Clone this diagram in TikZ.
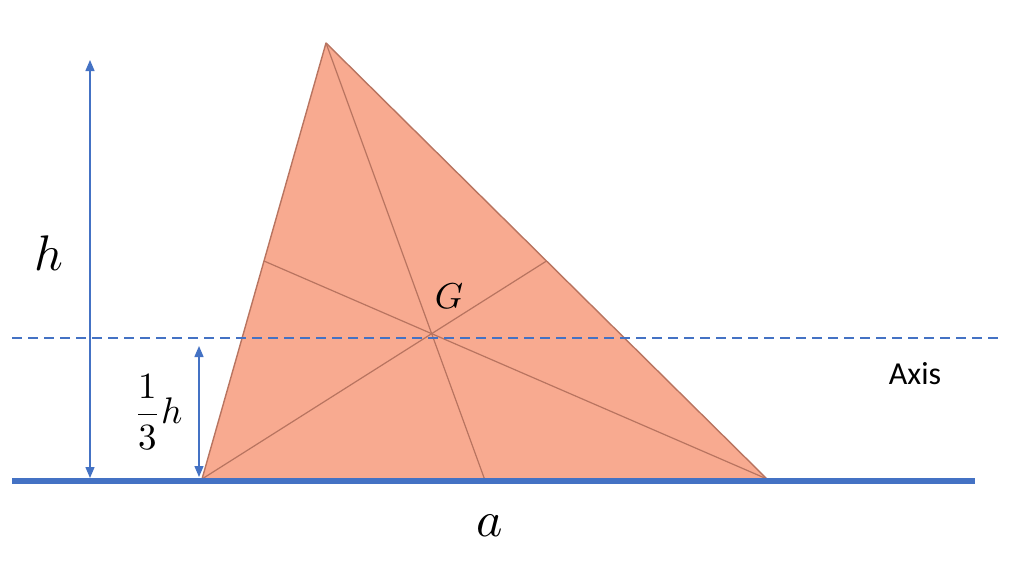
\documentclass[tikz,border=0pt]{standalone}
\usepackage{amsmath}
\usepackage{fontspec}
\newfontfamily\axisfont{Carlito}
\usetikzlibrary{arrows.meta,calc}
\definecolor{tri}{RGB}{248,170,144}
\definecolor{triedge}{RGB}{184,116,96}
\definecolor{ablue}{RGB}{68,114,196}
\tikzset{
  median/.style={draw=triedge, line width=1.2pt},
  dimarrow/.style={draw=ablue, line width=1.4pt, {Triangle[length=11pt,width=9pt]}-{Triangle[length=11pt,width=9pt]}},
  lbl/.style={inner sep=0pt, text=black}
}
\begin{document}
\begin{tikzpicture}[x=1pt,y=-1pt]
\useasboundingbox (0,0) rectangle (1024,576);
\coordinate (A) at (326,43);
\coordinate (B) at (202,479);
\coordinate (C) at (767,479);
\coordinate (MA) at ($(B)!0.5!(C)$);
\coordinate (MB) at ($(A)!0.5!(C)$);
\coordinate (MC) at ($(A)!0.5!(B)$);
\fill[tri] (A) -- (B) -- (C) -- cycle;
\draw[median] (A) -- (MA);
\draw[median] (B) -- (MB);
\draw[median] (C) -- (MC);
\draw[draw=triedge, line width=1.4pt, line join=round] (A) -- (B) -- (C) -- cycle;
% axis
\coordinate (axL) at (12,338);
\coordinate (axR) at (1003,338);
\draw[ablue, line width=2pt, dash pattern=on 10pt off 6pt] (axL) -- (axR);
% base
\coordinate (bL) at (12,481);
\coordinate (bR) at (975,481);
\draw[ablue, line width=5.5pt] (bL) -- (bR);
% dimension arrows
\coordinate (h1) at (90,60);
\coordinate (h2) at (90,478);
\draw[dimarrow] (h1) -- (h2);
\coordinate (t1) at (199,346);
\coordinate (t2) at (199,477);
\draw[dimarrow] (t1) -- (t2);
% labels
\node[lbl, scale=5] (hl) at (49,253) {$h$};
\node[lbl, scale=3.7] (thl) at (158,412) {$\dfrac{1}{3}h$};
\node[lbl, scale=3.6] (gl) at (449,296) {$G$};
\node[lbl] (axl) at (915,374) {\axisfont\fontsize{32}{32}\selectfont Axis};
\node[lbl, scale=5] (al) at (490,526) {$a$};
\end{tikzpicture}
\end{document}
